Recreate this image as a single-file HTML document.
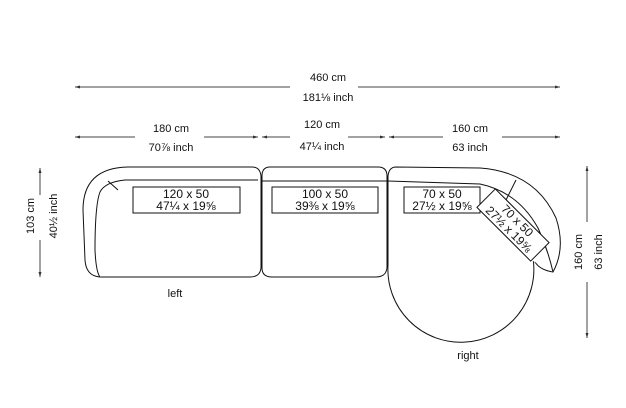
<!DOCTYPE html>
<html><head><style>body{margin:0;background:#fff}svg{display:block}</style></head><body>
<svg width="626" height="408" viewBox="0 0 626 408" xmlns="http://www.w3.org/2000/svg" font-family="Liberation Sans, Arial, sans-serif" font-size="11">
<defs><marker id="a" viewBox="0 0 10 10" refX="10" refY="5" markerWidth="7" markerHeight="5" orient="auto-start-reverse"><path d="M0 2 L10 5 L0 8 z" fill="#333"/></marker></defs>
<g stroke="#444" stroke-width="1" fill="none">
<line x1="75" y1="87" x2="290" y2="87" marker-start="url(#a)"/><line x1="358" y1="87" x2="560" y2="87" marker-end="url(#a)"/>
<line x1="75" y1="137" x2="135" y2="137" marker-start="url(#a)"/><line x1="204" y1="137" x2="258" y2="137" marker-end="url(#a)"/>
<line x1="262" y1="137" x2="290" y2="137" marker-start="url(#a)"/><line x1="348" y1="137" x2="385" y2="137" marker-end="url(#a)"/>
<line x1="389" y1="137" x2="443" y2="137" marker-start="url(#a)"/><line x1="502" y1="137" x2="560" y2="137" marker-end="url(#a)"/>
<line x1="40" y1="168" x2="40" y2="195" marker-start="url(#a)"/><line x1="40" y1="240" x2="40" y2="277" marker-end="url(#a)"/>
<line x1="587" y1="166" x2="587" y2="222" marker-start="url(#a)"/><line x1="587" y1="282" x2="587" y2="338" marker-end="url(#a)"/>
</g>
<g fill="#111" text-anchor="middle">
<text x="328" y="81">460 cm</text><text x="328" y="101">181⅛ inch</text>
<text x="171" y="132">180 cm</text><text x="171" y="151">70⅞ inch</text>
<text x="322" y="128">120 cm</text><text x="322" y="150">47¼ inch</text>
<text x="470" y="132">160 cm</text><text x="470" y="151">63 inch</text>
<text transform="translate(34,216) rotate(-90)">103 cm</text>
<text transform="translate(57,216) rotate(-90)">40½ inch</text>
<text transform="translate(582,252) rotate(-90)">160 cm</text>
<text transform="translate(602,252) rotate(-90)">63 inch</text>
<text x="175" y="297">left</text><text x="468" y="359">right</text>
</g>
<g fill="#aaa" font-weight="bold" text-anchor="middle">
<text x="234" y="263">T180</text><text x="355" y="262">CN120</text><text x="513" y="292">CR160</text>
</g>
<g stroke="#111" stroke-width="1" fill="#fff">
<path d="M130 167 L252 167 Q260 167 261 176 L261 268 Q260 277 250 277 L100 277 Q86 276 85 260 L83 210 Q83 167 130 167 Z"/>
<path d="M258 180 L125 180 Q105 182 100 192 Q95 205 95 250 Q96 272 100 277"/>
<path d="M108 181 L118 190"/>
<path d="M270 167 L378 167 Q387 167 387 176 L387 268 Q386 277 376 277 L272 277 Q262 277 262 268 L262 176 Q262 167 270 167 Z"/>
<path d="M262 181 L387 181"/>
<path d="M396 167 L480 168 Q535 172 556 218 Q566 248 553 272 Q540 270 535 262 L533 258 A73 73 0 1 1 388 265 L388 176 Q389 167 396 167 Z"/>
<path d="M388 181 L480 184 Q518 192 538 228 Q548 250 553 272"/>
<path d="M516 180 L506 200"/>
<rect x="133" y="187" width="107" height="26"/>
<rect x="272" y="187" width="106" height="26"/>
<rect x="404" y="187" width="76" height="26"/>
<g transform="translate(513,225) rotate(45)"><rect x="-38" y="-13" width="76" height="26"/></g>
</g>
<g fill="#111" text-anchor="middle" font-size="12">
<text x="186" y="198">120 x 50</text><text x="186" y="210">47¼ x 19⅝</text>
<text x="325" y="198">100 x 50</text><text x="325" y="210">39⅜ x 19⅝</text>
<text x="442" y="198">70 x 50</text><text x="442" y="210">27½ x 19⅝</text>
<g transform="translate(513,225) rotate(45)"><text x="0" y="-2">70 x 50</text><text x="0" y="10">27½ x 19⅝</text></g>
</g>
</svg>
</body></html>
